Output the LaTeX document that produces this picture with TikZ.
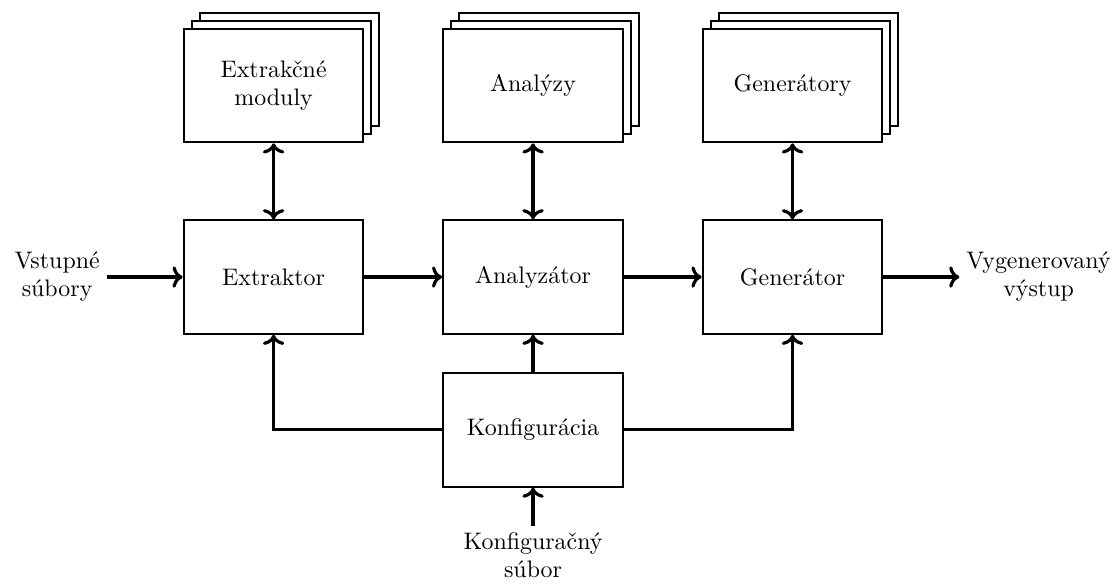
\documentclass[tikz,border=0pt]{standalone}
\usepackage{fontspec}
\setmainfont{lmroman10-regular}[Extension=.otf]
\usetikzlibrary{positioning, arrows.meta, shadows}

\begin{document}
\begin{tikzpicture}[
  node distance=1.34cm and 1.37cm,
  box/.style={rectangle, draw, line width=1pt, fill=white, align=center,
    minimum width=3.17cm, minimum height=2cm, font=\large},
  stackbox/.style={box, double copy shadow={shadow xshift=0.14cm, shadow yshift=0.14cm}},
  io/.style={align=center, font=\large},
  arr/.style={-{To}, line width=1.6pt},
  biarr/.style={{To}-{To}, line width=1.6pt}
]
\useasboundingbox (-9.40,-5.397) rectangle (10.35,4.885);

\node[box] (analyzator) at (0,0) {Analyzátor};
\node[box, left=of analyzator] (extraktor) {Extraktor};
\node[box, right=of analyzator] (generator) {Generátor};
\node[box, below=0.66cm of analyzator] (konfig) {Konfigurácia};

\node[stackbox, above=of extraktor] (moduly) {Extrakčné\\moduly};
\node[stackbox, above=of analyzator] (analyzy) {Analýzy};
\node[stackbox, above=of generator] (generatory) {Generátory};

\node[io, left=1.34cm of extraktor] (vstup) {Vstupné\\súbory};
\node[io, right=1.34cm of generator] (vystup) {Vygenerovaný\\výstup};
\node[io, below=0.67cm of konfig] (subor) {Konfiguračný\\súbor};

\draw[arr] (vstup) -- (extraktor);
\draw[arr] (extraktor) -- (analyzator);
\draw[arr] (analyzator) -- (generator);
\draw[arr] (generator) -- (vystup);

\draw[biarr] (moduly) -- (extraktor);
\draw[biarr] (analyzy) -- (analyzator);
\draw[biarr] (generatory) -- (generator);

\draw[arr] (konfig) -- (analyzator);
\draw[arr] (konfig) -| (extraktor);
\draw[arr] (konfig) -| (generator);
\draw[arr] (subor) -- (konfig);
\end{tikzpicture}
\end{document}
